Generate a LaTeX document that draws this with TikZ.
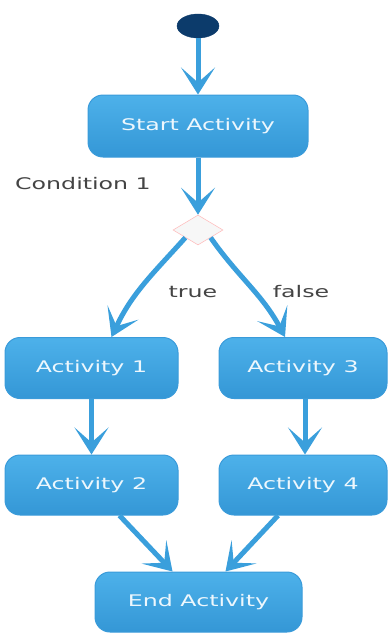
\documentclass[tikz,border=0pt]{standalone}
\usepackage{fontspec}
\setmainfont{DejaVu Sans}
\newfontfamily\widesans[FakeStretch=1.48]{DejaVu Sans}
\usetikzlibrary{arrows.meta,shapes.geometric}
\definecolor{flow}{HTML}{3A9FDC}
\definecolor{boxtop}{HTML}{4DB1EA}
\definecolor{boxbot}{HTML}{3497D6}
\definecolor{boxline}{HTML}{3A9BDA}
\definecolor{navy}{HTML}{0C3B6B}
\definecolor{labelgray}{HTML}{444444}
\tikzset{
  actbox/.style={draw=boxline, line width=1pt, rounded corners=15pt,
    top color=boxtop, bottom color=boxbot, text=white!90!boxtop,
    font=\widesans\fontsize{16}{18}\selectfont, inner sep=0pt},
  arr/.style={draw=flow, line width=5pt, line join=round,
    -{Stealth[length=27pt,width=34pt,inset=15pt]}},
  lbl/.style={text=labelgray, font=\widesans\fontsize{16}{18}\selectfont, inner sep=0pt}
}
\begin{document}
\begin{tikzpicture}[x=1pt,y=-1pt]
  \useasboundingbox (0,0) rectangle (388,634);
  % initial state
  \node[ellipse, fill=navy, draw=navy, minimum width=42pt, minimum height=24pt,
        inner sep=0pt] (init) at (198,26) {};
  % activities
  \node[actbox, minimum width=220pt, minimum height=62pt] (start) at (198,126) {Start Activity};
  \node[diamond, draw=red!25!white, fill=gray!6, line width=0.6pt, inner sep=0pt,
        minimum width=50pt, minimum height=30pt] (dec) at (198,230) {};
  \node[actbox, minimum width=173pt, minimum height=61pt] (a1) at (91.5,368) {Activity 1};
  \node[actbox, minimum width=168pt, minimum height=61pt] (a3) at (303,368) {Activity 3};
  \node[actbox, minimum width=173pt, minimum height=60pt] (a2) at (91.5,485) {Activity 2};
  \node[actbox, minimum width=168pt, minimum height=60pt] (a4) at (303,485) {Activity 4};
  \node[actbox, minimum width=207pt, minimum height=60pt] (end) at (198.5,602) {End Activity};
  % labels
  \node[lbl, anchor=west] (cond) at (15,184) {Condition 1};
  \node[lbl] (ltrue) at (193,292) {true};
  \node[lbl] (lfalse) at (301,292) {false};
  % flows
  \draw[arr] (init) -- (start);
  \draw[arr] (start) -- (dec);
  \draw[arr] (dec.south west) to[out=-132,in=65] ([xshift=20pt]a1.north);
  \draw[arr] (dec.south east) to[out=-55,in=118] ([xshift=-18pt]a3.north);
  \draw[arr] (a1) -- (a2);
  \draw[arr] ([xshift=2pt]a3.south) -- ([xshift=2pt]a4.north);
  \draw[arr] ([xshift=28pt]a2.south) -- ([xshift=-26pt]end.north);
  \draw[arr] ([xshift=-25pt]a4.south) -- ([xshift=27pt]end.north);
\end{tikzpicture}
\end{document}
